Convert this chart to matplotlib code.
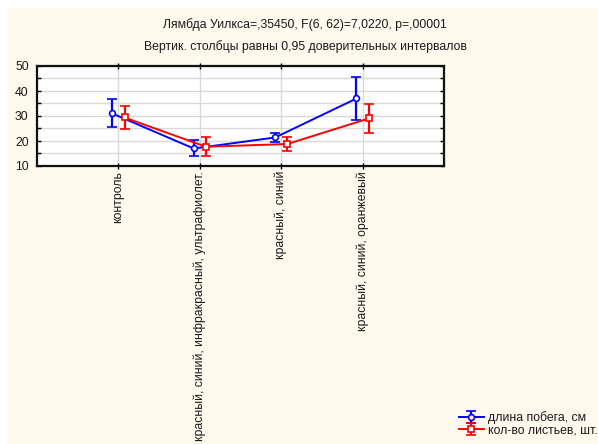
import matplotlib
matplotlib.use("Agg")
import matplotlib.pyplot as plt
from matplotlib.patches import Rectangle
from matplotlib.ticker import MultipleLocator
import numpy as np

plt.rcParams['font.family'] = ['Liberation Sans', 'DejaVu Sans']

categories = ["контроль",
              "красный, синий, инфракрасный, ультрафиолет.",
              "красный, синий",
              "красный, синий, оранжевый"]

shoot_mean = [31.0, 17.0, 21.4, 37.0]
shoot_ci = [5.6, 3.2, 1.9, 8.6]
leaves_mean = [29.4, 17.7, 18.8, 29.0]
leaves_ci = [4.7, 3.7, 2.9, 5.7]

series_labels = ["длина побега, см", "кол-во листьев, шт."]
title1 = "Лямбда Уилкса=,35450, F(6, 62)=7,0220, p=,00001"
title2 = "Вертик. столбцы равны 0,95 доверительных интервалов"

W, H = 598, 444
fig = plt.figure(figsize=(W / 100, H / 100), dpi=100)
fig.patch.set_facecolor('white')
fig.add_artist(Rectangle((7 / W, 0), 1, 1 - 8 / H, transform=fig.transFigure,
                         facecolor='#FFF9EE', edgecolor='none', zorder=-10))

ax = fig.add_axes([37 / W, 1 - 166 / H, (444 - 37) / W, 100 / H])
ax.set_facecolor('white')

x = np.arange(len(categories))
off = 0.075
txt = '#1a1a1a'

eb1 = ax.errorbar(x - off, shoot_mean, yerr=shoot_ci, color='#0000FF', lw=1.4,
                  elinewidth=1.6, capsize=3.5, capthick=1.6, marker='o',
                  markersize=4.2, mfc='white', mec='#0000FF', mew=1.2, zorder=4,
                  label=series_labels[0])
eb2 = ax.errorbar(x + off, leaves_mean, yerr=leaves_ci, color='#FF0000', lw=1.4,
                  elinewidth=1.6, capsize=3.5, capthick=1.6, marker='s',
                  markersize=5, mfc='white', mec='#FF0000', mew=1.2, zorder=4,
                  label=series_labels[1])

ax.set_xlim(-1, 4)
ax.set_ylim(10, 50)
ax.set_xticks(x)
ax.set_xticklabels([])
ax.yaxis.set_major_locator(MultipleLocator(10))
ax.yaxis.set_minor_locator(MultipleLocator(5))
ax.grid(True, which='both', axis='y', color='#D9D9D9', lw=1.0)
ax.grid(True, which='major', axis='x', color='#D9D9D9', lw=1.0)
ax.set_axisbelow(True)
for s in ax.spines.values():
    s.set_linewidth(1.6)
    s.set_color('#111111')
ax.tick_params(axis='y', which='both', direction='in', length=3, width=1,
               left=True, right=True, labelsize=8.8, labelcolor=txt, pad=6)
ax.tick_params(axis='x', which='both', direction='inout', length=5, width=1,
               top=True, bottom=True)

for xi, lab in zip(x, categories):
    ax.text(xi, -0.05, lab, transform=ax.get_xaxis_transform(), rotation=90,
            ha='center', va='top', fontsize=8.8, color=txt)

fig.text(305 / W, 1 - 25 / H, title1, ha='center', va='center', fontsize=8.8, color=txt)
fig.text(305 / W, 1 - 47 / H, title2, ha='center', va='center', fontsize=8.8, color=txt)

fig.legend(handles=[eb1, eb2], labels=series_labels, loc='upper left',
           bbox_to_anchor=(453 / W, 1 - 405 / H), frameon=False, fontsize=8.8,
           handlelength=2.0, handleheight=0.4, handletextpad=0.4,
           labelspacing=0.0, borderpad=0, labelcolor=txt)

fig.savefig("out.png", dpi=100)
